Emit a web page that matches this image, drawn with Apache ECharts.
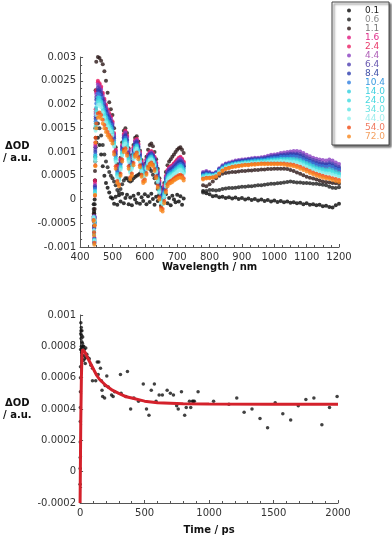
<!DOCTYPE html>
<html>

<head>
    <meta charset="UTF-8">
    <title>Transient absorption spectra and kinetics</title>
    <script src="https://cdn.jsdelivr.net/npm/echarts@6.0.0/dist/echarts.min.js"></script>
    <style>
        html, body { margin: 0; padding: 0; background: #fff; }
    </style>
</head>

<body>
    <div id="main" style="width: 392px; height: 539px;"></div>
    <script>
        // delay times (ps) shown in the legend
        const delays = ['0.1', '0.6', '1.1', '1.6', '2.4', '4.4', '6.4', '8.4', '10.4', '14.0', '24.0', '34.0', '44.0', '54.0', '72.0'];

        // wavelengths (nm): visible window and NIR window
        const wlVis = [442, 443, 444, 445, 446, 447, 448,
            450, 455, 460, 465, 470, 475, 480, 485, 490, 495,
            500, 505, 510, 515, 520, 525, 530, 535, 540, 545,
            550, 555, 560, 565, 570, 575, 580, 585, 590, 595,
            600, 605, 610, 615, 620, 625, 630, 635, 640, 645,
            650, 655, 660, 665, 670, 675, 680, 685, 690, 695,
            700, 705, 710, 715, 720];
        const wlNir = [780, 790, 800, 810, 820, 830, 840, 850, 860, 870,
            880, 890, 900, 910, 920, 930, 940, 950, 960, 970,
            980, 990, 1000, 1010, 1020, 1030, 1040, 1050, 1060, 1070,
            1080, 1090, 1100, 1110, 1120, 1130, 1140, 1150, 1160, 1170,
            1180, 1190, 1200];

        // ΔOD in units of 1e-5, one array per delay
        const vis01 = [-10, -25, -30, 0, 40, 80, 110,
            120, 130, 115, 95, 70, 50, 35, 25, 15, 5,
            2, -9, 6, -11, 9, -4, 12, -8, 3, 10,
            -10, 4, -12, 8, 0, -7, 12, -9, 5, -3,
            11, -10, 7, -5, 12, 1, -11, 6, -3, 9,
            -13, -9, 4, 11, -8, 3, -12, 8, 0, -6,
            10, -4, 7, -11, 2];
        const vis06 = [-20, -40, -45, -10, 40, 90, 130,
            150, 160, 150, 135, 115, 95, 80, 68, 58, 50,
            45, 38, 30, 20, 15, 22, 32, 40, 45, 45,
            40, 38, 40, 45, 48, 50, 52, 55, 60, 65,
            70, 72, 70, 65, 60, 52, 45, 35, 22, 10,
            0, -5, 8, 25, 40, 52, 62, 70, 75, 78,
            80, 82, 80, 76, 70];
        const vis11 = [-30, -55, -60, -20, 60, 150, 230,
            290, 300, 298, 292, 285, 270, 250, 225, 205, 190,
            178, 150, 110, 75, 62, 88, 120, 145, 150, 140,
            108, 85, 93, 115, 130, 133, 122, 103, 83, 70,
            75, 90, 105, 115, 118, 112, 100, 85, 65, 45,
            25, 20, 35, 58, 72, 80, 85, 90, 95, 100,
            105, 108, 110, 105, 98];
        const vis16 = [-35, -70, -80, -45, 35, 115, 185,
            226, 247, 242, 235, 222, 209, 197, 187, 179, 172,
            162, 138, 103, 68, 58, 83, 113, 136, 143, 133,
            103, 80, 88, 108, 123, 126, 116, 98, 78, 66,
            70, 83, 93, 98, 100, 96, 88, 76, 58, 38,
            18, 13, 28, 48, 60, 66, 68, 70, 74, 78,
            82, 86, 88, 84, 78];
        const vis24 = [-40, -65, -85, -40, 40, 120, 190,
            230, 250, 245, 238, 225, 212, 200, 190, 182, 175,
            165, 140, 105, 70, 60, 85, 115, 138, 145, 135,
            105, 82, 90, 110, 125, 128, 118, 100, 80, 68,
            72, 85, 95, 100, 102, 98, 90, 78, 60, 40,
            20, 15, 30, 50, 62, 68, 70, 72, 76, 80,
            84, 88, 90, 86, 80];
        const vis44 = [-45, -60, -90, -35, 30, 110, 180,
            222, 242, 238, 231, 218, 206, 194, 185, 177, 170,
            160, 136, 101, 67, 57, 82, 112, 134, 141, 131,
            101, 78, 86, 106, 122, 125, 115, 97, 77, 65,
            69, 82, 92, 97, 99, 95, 87, 75, 57, 36,
            16, 11, 26, 47, 59, 65, 67, 69, 72, 76,
            80, 84, 86, 82, 76];
        const vis64 = [-38, -72, -82, -48, 28, 105, 175,
            216, 236, 232, 226, 213, 201, 190, 180, 173, 166,
            157, 132, 98, 64, 54, 79, 109, 131, 137, 127,
            98, 75, 83, 103, 119, 122, 112, 94, 74, 62,
            66, 79, 90, 95, 97, 93, 85, 72, 54, 33,
            12, 8, 23, 44, 56, 62, 64, 66, 70, 73,
            77, 80, 82, 79, 73];
        const vis84 = [-42, -62, -88, -38, 25, 100, 170,
            210, 230, 228, 221, 209, 196, 186, 176, 169, 162,
            153, 129, 95, 61, 52, 76, 106, 128, 134, 124,
            95, 72, 80, 100, 116, 120, 110, 92, 72, 60,
            63, 77, 88, 93, 95, 91, 82, 70, 51, 30,
            10, 5, 20, 41, 53, 59, 61, 63, 67, 70,
            74, 78, 79, 76, 70];
        const vis104 = [-36, -68, -92, -50, 22, 95, 165,
            202, 223, 221, 214, 202, 190, 180, 171, 164, 158,
            149, 124, 91, 58, 49, 73, 103, 125, 130, 120,
            91, 68, 76, 97, 113, 116, 106, 89, 69, 56,
            60, 73, 85, 90, 93, 88, 80, 66, 48, 26,
            5, 1, 17, 38, 50, 56, 58, 60, 63, 67,
            70, 73, 75, 72, 66];
        const vis140 = [-44, -74, -84, -42, 18, 92, 160,
            194, 215, 214, 207, 196, 184, 174, 165, 159, 153,
            144, 120, 87, 54, 46, 69, 99, 121, 126, 116,
            87, 64, 72, 93, 109, 113, 103, 86, 66, 53,
            57, 70, 82, 87, 90, 85, 77, 63, 44, 22,
            1, -3, 13, 34, 47, 52, 54, 56, 60, 63,
            66, 69, 71, 68, 62];
        const vis240 = [-39, -66, -86, -46, 15, 88, 155,
            188, 209, 209, 203, 191, 180, 170, 161, 155, 149,
            141, 117, 84, 52, 43, 67, 97, 118, 123, 113,
            84, 61, 69, 90, 107, 111, 101, 83, 63, 51,
            54, 68, 79, 85, 88, 83, 74, 61, 42, 19,
            -2, -6, 10, 32, 44, 50, 52, 54, 57, 60,
            63, 66, 68, 65, 59];
        const vis340 = [-41, -71, -93, -52, 12, 85, 150,
            184, 205, 204, 199, 187, 176, 166, 158, 152, 146,
            138, 114, 82, 50, 41, 65, 95, 116, 121, 110,
            82, 59, 67, 88, 105, 109, 99, 81, 61, 49,
            52, 66, 78, 84, 86, 82, 73, 59, 40, 17,
            -4, -8, 8, 30, 42, 48, 50, 52, 55, 58,
            61, 64, 65, 62, 57];
        const vis440 = [-37, -64, -87, -44, 10, 80, 145,
            178, 199, 200, 194, 183, 172, 162, 154, 148, 143,
            134, 111, 79, 47, 39, 62, 92, 113, 118, 107,
            79, 56, 64, 85, 102, 107, 97, 79, 59, 47,
            50, 64, 76, 82, 84, 80, 71, 57, 37, 14,
            -7, -11, 5, 27, 40, 45, 47, 49, 53, 55,
            58, 61, 62, 59, 54];
        const vis540 = [-43, -69, -91, -54, 8, 72, 130,
            160, 181, 183, 178, 168, 157, 149, 142, 136, 131,
            124, 100, 70, 39, 32, 54, 84, 105, 108, 97,
            70, 47, 55, 77, 94, 99, 89, 72, 52, 39,
            42, 56, 69, 75, 78, 73, 64, 49, 29, 5,
            -17, -20, -3, 19, 32, 37, 39, 41, 44, 47,
            49, 51, 52, 50, 45];
        const vis720 = [-45, -75, -95, -55, 10, 70, 120,
            150, 172, 175, 170, 160, 150, 142, 135, 130, 125,
            118, 95, 65, 35, 28, 50, 80, 100, 103, 92,
            65, 42, 50, 72, 90, 95, 85, 68, 48, 35,
            38, 52, 65, 72, 75, 70, 60, 45, 25, 0,
            -22, -25, -8, 15, 28, 33, 35, 37, 40, 42,
            44, 46, 47, 45, 40];

        const nir01 = [18, 13, 11, 7, 8, 5, 6, 3, 5, 2,
            4, 1, 3, 0, 2, -1, 1, -2, 0, -3,
            -1, -4, -2, -5, -3, -6, -4, -7, -6, -8,
            -7, -10, -8, -11, -10, -12, -11, -14, -13, -16,
            -17, -12, -9];
        const nir06 = [15, 18, 20, 20, 19, 20, 22, 23, 24, 24,
            25, 26, 27, 27, 28, 28, 29, 30, 30, 31,
            32, 33, 33, 34, 35, 36, 37, 38, 37, 36,
            36, 35, 35, 34, 33, 33, 32, 31, 30, 27,
            25, 24, 26];
        const nir11 = [30, 28, 32, 38, 45, 50, 54, 56, 57, 58,
            58, 59, 60, 60, 61, 61, 62, 62, 63, 63,
            64, 64, 65, 65, 65, 65, 64, 62, 60, 57,
            54, 51, 48, 46, 44, 42, 40, 38, 37, 36,
            35, 34, 33];
        const nir16 = [52, 54, 53, 51, 54, 61, 67, 71, 73, 75,
            77, 78, 79, 80, 80, 81, 82, 82, 83, 84,
            85, 86, 87, 87, 88, 89, 89, 89, 89, 88,
            87, 84, 80, 77, 74, 72, 70, 68, 67, 68,
            66, 62, 60];
        const nir24 = [53, 55, 54, 52, 55, 62, 68, 72, 74, 76,
            78, 79, 80, 81, 81, 82, 83, 83, 84, 85,
            86, 87, 88, 88, 89, 90, 90, 90, 90, 89,
            88, 85, 81, 78, 75, 73, 71, 69, 68, 69,
            67, 63, 61];
        const nir44 = [58, 60, 58, 55, 58, 66, 72, 76, 78, 80,
            82, 83, 84, 85, 86, 87, 88, 88, 89, 90,
            92, 94, 95, 96, 98, 99, 100, 101, 102, 102,
            101, 98, 94, 91, 88, 86, 84, 83, 82, 84,
            82, 78, 75];
        const nir64 = [56, 58, 56, 54, 57, 64, 70, 74, 76, 78,
            80, 81, 82, 83, 84, 85, 86, 86, 87, 88,
            89, 91, 92, 93, 94, 95, 96, 97, 97, 97,
            96, 93, 89, 86, 83, 81, 79, 77, 76, 78,
            76, 72, 69];
        const nir84 = [54, 56, 55, 53, 56, 63, 69, 73, 75, 77,
            79, 80, 81, 82, 83, 84, 84, 85, 85, 86,
            88, 89, 90, 91, 92, 93, 93, 94, 94, 94,
            92, 89, 85, 82, 79, 77, 75, 74, 73, 74,
            72, 68, 66];
        const nir104 = [52, 54, 53, 52, 55, 62, 68, 72, 74, 76,
            77, 78, 79, 80, 81, 82, 83, 83, 84, 84,
            86, 87, 88, 88, 90, 90, 90, 91, 91, 90,
            88, 85, 82, 79, 76, 73, 71, 70, 69, 70,
            68, 64, 62];
        const nir140 = [50, 52, 52, 51, 53, 60, 66, 70, 72, 74,
            76, 77, 78, 79, 79, 80, 81, 81, 82, 82,
            83, 84, 85, 85, 86, 86, 86, 86, 86, 85,
            83, 80, 77, 74, 71, 68, 66, 65, 63, 64,
            62, 59, 56];
        const nir240 = [49, 51, 50, 50, 52, 59, 65, 69, 71, 73,
            74, 75, 76, 77, 78, 79, 79, 80, 80, 81,
            82, 82, 83, 83, 84, 84, 84, 84, 83, 82,
            80, 77, 74, 71, 68, 65, 63, 62, 60, 60,
            58, 55, 53];
        const nir340 = [48, 50, 50, 49, 52, 58, 64, 68, 70, 72,
            74, 75, 76, 77, 77, 78, 78, 79, 79, 80,
            80, 81, 81, 82, 82, 82, 82, 82, 81, 80,
            78, 75, 71, 68, 65, 63, 61, 59, 57, 57,
            55, 53, 50];
        const nir440 = [46, 48, 49, 49, 51, 57, 63, 67, 69, 71,
            73, 74, 75, 76, 76, 77, 77, 78, 78, 78,
            79, 80, 80, 80, 81, 80, 80, 79, 79, 78,
            75, 72, 69, 66, 63, 60, 58, 56, 55, 54,
            52, 50, 48];
        const nir540 = [44, 46, 46, 47, 49, 55, 61, 65, 67, 69,
            70, 71, 72, 73, 73, 74, 75, 75, 76, 76,
            76, 76, 76, 76, 76, 76, 75, 74, 73, 71,
            69, 66, 63, 60, 57, 54, 52, 50, 48, 47,
            45, 43, 41];
        const nir720 = [42, 44, 45, 46, 48, 54, 60, 64, 66, 68,
            69, 70, 71, 72, 72, 73, 73, 74, 74, 74,
            74, 74, 74, 74, 74, 73, 72, 71, 70, 68,
            65, 62, 59, 56, 53, 50, 48, 46, 44, 43,
            41, 39, 37];

        const visSets = [vis01, vis06, vis11, vis16, vis24, vis44, vis64, vis84, vis104, vis140, vis240, vis340, vis440, vis540, vis720];
        const nirSets = [nir01, nir06, nir11, nir16, nir24, nir44, nir64, nir84, nir104, nir140, nir240, nir340, nir440, nir540, nir720];

        // kinetic trace: time (ps) and ΔOD (1e-5)
        const kinT = [0, 0.5, 1, 1, 1.5, 2, 2.5, 3, 3,
            4, 5, 6, 7, 8, 9, 10, 11, 12, 13, 14, 15, 17, 18, 20, 22, 24, 26, 28, 30, 33, 36, 40, 44, 48, 52,
            59, 71, 84, 96, 96, 121, 133, 145, 140, 158, 165, 170, 175, 190, 194, 207, 219, 244, 256, 268,
            313, 318, 355, 367, 392, 417, 453, 490, 515, 534, 552, 576, 589, 613, 638, 675, 700, 724, 749, 761,
            786, 811, 823, 848, 858, 871, 878, 886, 915, 1035, 1154, 1215, 1272, 1333, 1395, 1454, 1513, 1572,
            1633, 1692, 1751, 1813, 1875, 1934, 1993];
        const kinV = [-8, 2, 9, 19, 32, 41, 51, 60, 67,
            78, 88, 95, 90, 85, 92, 80, 87, 76, 83, 90, 79, 74, 82, 86, 80, 77, 71, 80, 74, 78, 72, 69, 79, 73, 75,
            73, 72, 68, 66, 58, 58, 70, 70, 62, 66, 58, 52, 48, 47, 55, 61, 54, 49, 48, 51,
            62, 50, 48, 64, 40, 47, 45, 56, 40, 36, 52, 56, 45, 49, 49, 52, 50, 49, 42, 40,
            51, 36, 41, 45, 41, 45, 45, 45, 51, 45, 43, 47, 38, 40, 34, 28, 44, 37,
            33, 42, 46, 47, 30, 41, 48];
        // fitted curve
        const fitT = [0, 2, 5, 10, 15, 20, 25, 30, 40, 50, 75, 100, 125, 150, 200, 250, 300, 350, 400, 500, 600, 700, 800, 1000, 1500, 2000];
        const fitV = [-20, 0, 30, 60, 75, 78, 78, 77, 76, 74, 70, 66, 62, 59, 55, 52, 50, 48, 47, 45, 44, 43.7, 43.4, 43.2, 43.1, 43.1];

        const markerColors = ['#050505', '#1e1e1e', '#2b1616', '#e0187e', '#ea1f63', '#8a3fc0', '#4d3db0', '#2c3cae', '#2f7fe0', '#2fd0de', '#3ddbe0', '#5be4e4', '#93f1ee', '#f04a12', '#f7861c'];
        const labelColors = ['#222222', '#8c8c8c', '#7a7a7a', '#e0308c', '#e83a6a', '#b060b8', '#6858b0', '#4050a8', '#3a9ae0', '#40d0e0', '#48d8e0', '#6ae2e2', '#a2eeee', '#f07a60', '#f4a060'];

        const axisColor = '#555';
        const labelStyle = { color: '#333', fontSize: 10 };
        const nameStyle = { color: '#111', fontSize: 10, fontWeight: 'bold' };
        const fmt = v => String(+v.toFixed(5));

        const spectraSeries = delays.map((d, k) => ({
            name: d,
            type: 'scatter',
            xAxisIndex: 0,
            yAxisIndex: 0,
            symbol: 'circle',
            symbolSize: 4,
            itemStyle: { color: markerColors[k] },
            data: wlVis.map((w, i) => [w, visSets[k][i] / 1e5])
                .concat(wlNir.map((w, i) => [w, nirSets[k][i] / 1e5]))
        }));

        const option = {
            animation: false,
            textStyle: { fontFamily: 'DejaVu Sans' },
            legend: {
                orient: 'vertical',
                left: 332,
                top: 2,
                selectedMode: false,
                itemWidth: 4,
                itemHeight: 4,
                itemGap: 0,
                padding: [4, 4, 4, 15],
                backgroundColor: '#fff',
                borderColor: '#444',
                borderWidth: 1,
                shadowColor: 'rgba(0,0,0,0.55)',
                shadowBlur: 2,
                shadowOffsetX: 2,
                shadowOffsetY: 2,
                textStyle: { fontSize: 9, lineHeight: 9, padding: [0, 0, 0, 9] },
                data: delays.map((d, k) => ({ name: d, textStyle: { color: labelColors[k] } }))
            },
            grid: [
                { left: 67, top: 57, width: 272, height: 190 },
                { left: 67, top: 315, width: 271, height: 188 }
            ],
            xAxis: [
                {
                    gridIndex: 0, type: 'value', min: 400, max: 1200, interval: 100,
                    name: 'Wavelength / nm', nameLocation: 'middle', nameGap: 15, nameTextStyle: nameStyle,
                    axisLine: { onZero: false, lineStyle: { color: axisColor } },
                    axisTick: { inside: true, length: 3, lineStyle: { color: axisColor } },
                    minorTick: { show: true, splitNumber: 4, length: 2, lineStyle: { color: axisColor } },
                    axisLabel: Object.assign({ margin: 5, formatter: v => String(v) }, labelStyle),
                    splitLine: { show: false }
                },
                {
                    gridIndex: 1, type: 'value', min: 0, max: 2000, interval: 500,
                    name: 'Time / ps', nameLocation: 'middle', nameGap: 22, nameTextStyle: nameStyle,
                    axisLine: { onZero: false, lineStyle: { color: axisColor } },
                    axisTick: { inside: true, length: 3, lineStyle: { color: axisColor } },
                    minorTick: { show: true, splitNumber: 5, length: 2, lineStyle: { color: axisColor } },
                    axisLabel: Object.assign({ margin: 5, formatter: v => String(v) }, labelStyle),
                    splitLine: { show: false }
                }
            ],
            yAxis: [
                {
                    gridIndex: 0, type: 'value', min: -0.001, max: 0.003, interval: 0.0005,
                    name: 'ΔOD\n/ a.u.', nameLocation: 'middle', nameRotate: 0, nameGap: 51,
                    nameTextStyle: Object.assign({ align: 'center', lineHeight: 12 }, nameStyle),
                    axisLine: { show: true, onZero: false, lineStyle: { color: axisColor } },
                    axisTick: { show: true, inside: true, length: 3, lineStyle: { color: axisColor } },
                    minorTick: { show: true, splitNumber: 3, length: 2, lineStyle: { color: axisColor } },
                    axisLabel: Object.assign({ margin: 4, formatter: fmt }, labelStyle),
                    splitLine: { show: false }
                },
                {
                    gridIndex: 1, type: 'value', min: -0.0002, max: 0.001, interval: 0.0002,
                    name: 'ΔOD\n/ a.u.', nameLocation: 'middle', nameRotate: 0, nameGap: 51,
                    nameTextStyle: Object.assign({ align: 'center', lineHeight: 12 }, nameStyle),
                    axisLine: { show: true, onZero: false, lineStyle: { color: axisColor } },
                    axisTick: { show: true, inside: true, length: 3, lineStyle: { color: axisColor } },
                    minorTick: { show: true, splitNumber: 2, length: 2, lineStyle: { color: axisColor } },
                    axisLabel: Object.assign({ margin: 4, formatter: fmt }, labelStyle),
                    splitLine: { show: false }
                }
            ],
            series: spectraSeries.concat([
                {
                    name: 'kinetics',
                    type: 'scatter',
                    xAxisIndex: 1,
                    yAxisIndex: 1,
                    symbolSize: 3.5,
                    itemStyle: { color: '#111' },
                    data: kinT.map((t, i) => [t, kinV[i] / 1e5])
                },
                {
                    name: 'fit',
                    type: 'line',
                    xAxisIndex: 1,
                    yAxisIndex: 1,
                    showSymbol: false,
                    lineStyle: { color: '#d4212b', width: 3 },
                    data: fitT.map((t, i) => [t, fitV[i] / 1e5])
                }
            ])
        };

        const myChart = echarts.init(document.getElementById('main'));
        myChart.setOption(option);

        window.addEventListener('resize', function () {
            myChart.resize();
        });
    </script>
</body>

</html>
